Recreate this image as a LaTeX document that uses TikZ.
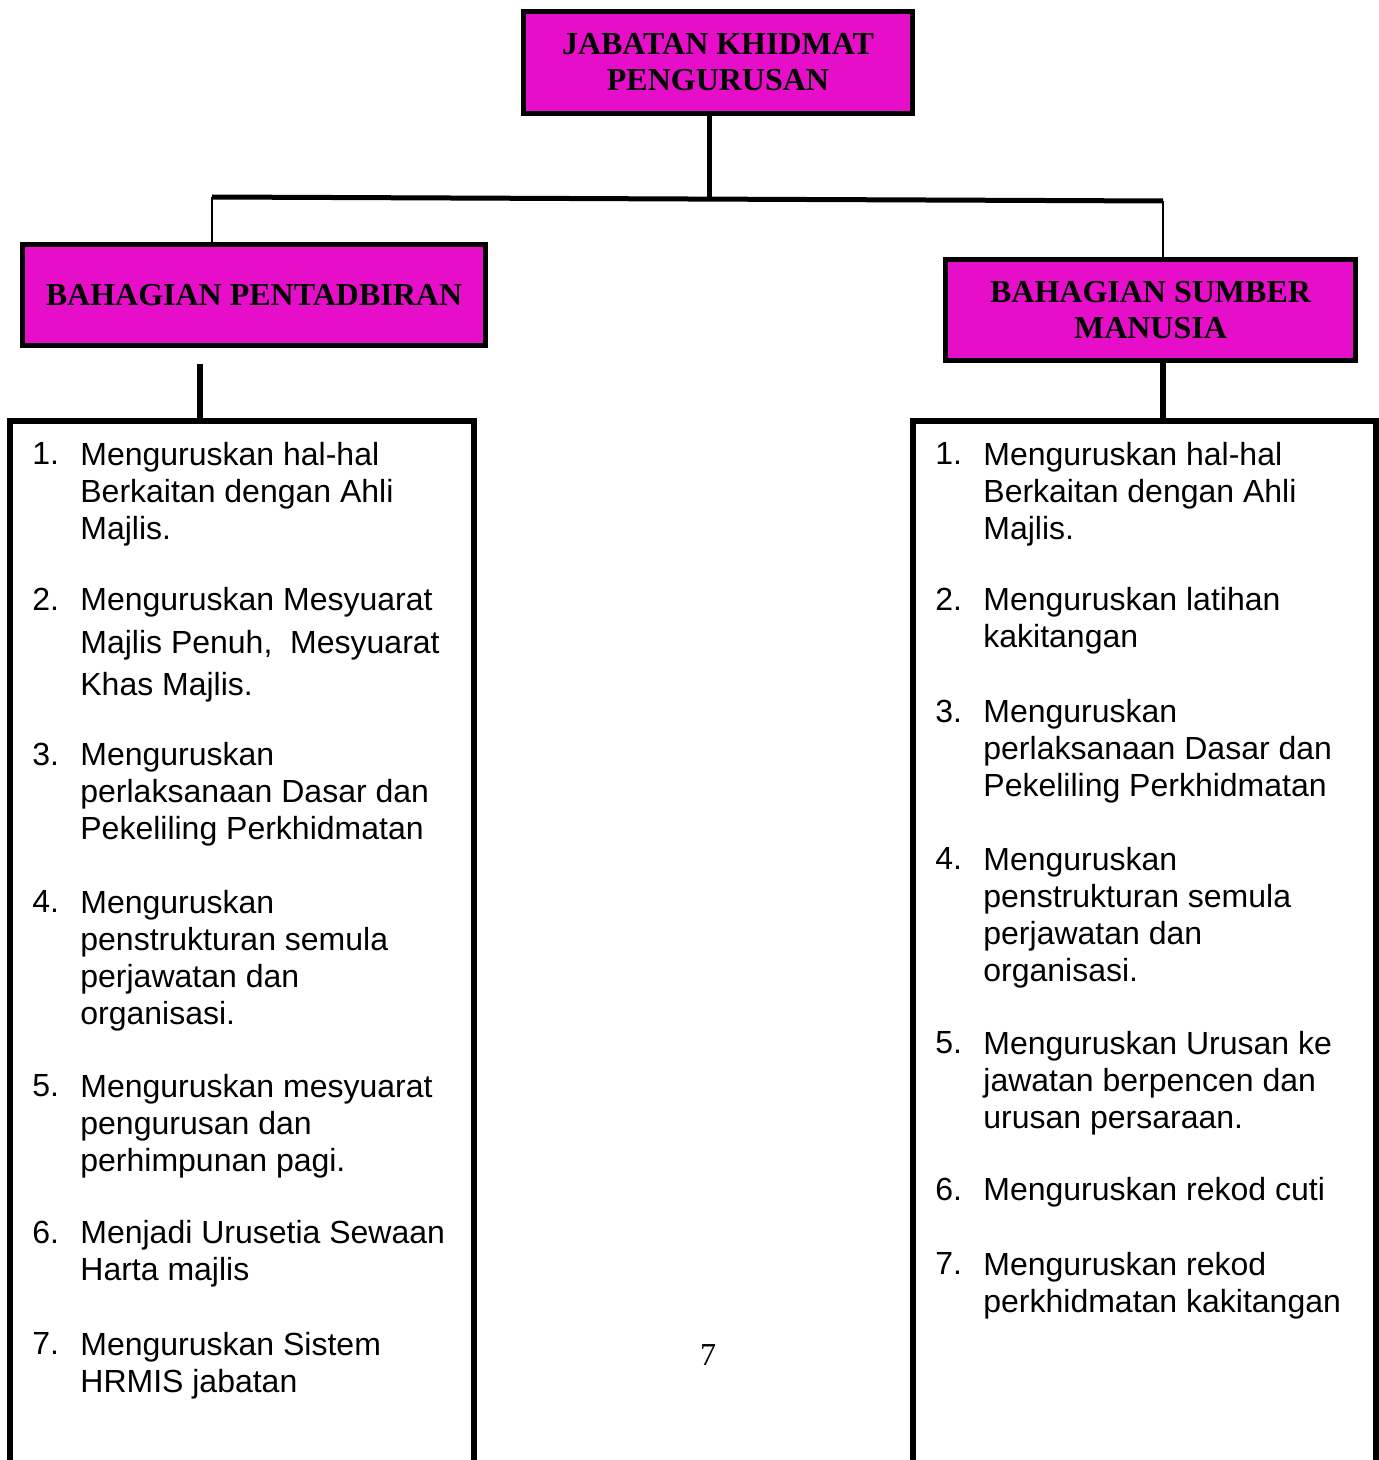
\documentclass[tikz,border=0pt]{standalone}
\usepackage{fontspec}
\setmainfont{Liberation Serif}
\newfontfamily\arialfont{Liberation Sans}
\usepackage{tikz}
\usetikzlibrary{calc}
\definecolor{orgmagenta}{RGB}{230,14,200}

\begin{document}
\begin{tikzpicture}[x=0.5pt, y=-0.5pt,
    headbox/.style={draw=black, line width=2.5pt, fill=orgmagenta, align=center, inner sep=0pt,
      font=\fontsize{16}{18}\selectfont\bfseries},
    listbox/.style={draw=black, line width=3pt, inner sep=0pt},
    num/.style={anchor=base west, inner sep=0pt, font=\arialfont\fontsize{16}{18.5}\selectfont},
    itemtext/.style={inner sep=0pt, anchor=north west, align=left, font=\arialfont\fontsize{16}{18.5}\selectfont},
    trunk/.style={draw=black, line width=2.5pt},
    twig/.style={draw=black, line width=1pt},
    stem/.style={draw=black, line width=3pt}]
    \useasboundingbox (0,0) rectangle (1379,1460);

    % boxes
    \node[headbox, minimum width=194.5pt, minimum height=51pt] (jkp) at (718,62.5) {JABATAN KHIDMAT\\PENGURUSAN};
    \node[headbox, minimum width=231.5pt, minimum height=50.5pt] (bp) at (254,295) {BAHAGIAN PENTADBIRAN};
    \node[headbox, minimum width=205pt, minimum height=50.5pt] (bsm) at (1150.5,310) {BAHAGIAN SUMBER\\MANUSIA};
    \node[listbox, minimum width=232pt, minimum height=539.5pt] (lbp) at (242,960.5) {};
    \node[listbox, minimum width=231.5pt, minimum height=539.5pt] (lbsm) at (1144.5,960.5) {};

    % connectors
    \coordinate (jl) at (212,197);
    \coordinate (jr) at (1163,201);
    \coordinate (hub) at (709,199);
    \draw[trunk] (jkp.south -| hub) -- (hub);
    \draw[trunk] (jl) -- (jr);
    \draw[twig] (jl) -- (bp.north -| jl);
    \draw[twig] (jr) -- (bsm.north -| jr);
    \draw[stem, shorten <=8pt] ([xshift=-27pt]bp.south) -- ([xshift=-27pt]bp.south |- lbp.north);
    \draw[stem] ([xshift=6.25pt]bsm.south) -- ([xshift=6.25pt]bsm.south |- lbsm.north);

    % Bahagian Pentadbiran
    \node[num] (l1n) at (32,464) {1.};
    \node[itemtext] (l1) at ($(l1n.north west)+(48,0)$) {Menguruskan hal-hal\\Berkaitan dengan Ahli\\Majlis.};
    \node[num] (l2n) at (32,610) {2.};
    \node[itemtext] (l2) at ($(l2n.north west)+(48,0)$) {Menguruskan Mesyuarat\\[2.75pt]Majlis Penuh,\ \ Mesyuarat\\[2.75pt]Khas Majlis.};
    \node[num] (l3n) at (32,765) {3.};
    \node[itemtext] (l3) at ($(l3n.north west)+(48,0)$) {Menguruskan\\perlaksanaan Dasar dan\\Pekeliling Perkhidmatan};
    \node[num] (l4n) at (32,912) {4.};
    \node[itemtext] (l4) at ($(l4n.north west)+(48,0)$) {Menguruskan\\penstrukturan semula\\perjawatan dan\\organisasi.};
    \node[num] (l5n) at (32,1096) {5.};
    \node[itemtext] (l5) at ($(l5n.north west)+(48,0)$) {Menguruskan mesyuarat\\pengurusan dan\\perhimpunan pagi.};
    \node[num] (l6n) at (32,1243) {6.};
    \node[itemtext] (l6) at ($(l6n.north west)+(48,0)$) {Menjadi Urusetia Sewaan\\Harta majlis};
    \node[num] (l7n) at (32,1354) {7.};
    \node[itemtext] (l7) at ($(l7n.north west)+(48,0)$) {Menguruskan Sistem\\HRMIS jabatan};

    % Bahagian Sumber Manusia
    \node[num] (r1n) at (935,464) {1.};
    \node[itemtext] (r1) at ($(r1n.north west)+(48,0)$) {Menguruskan hal-hal\\Berkaitan dengan Ahli\\Majlis.};
    \node[num] (r2n) at (935,610) {2.};
    \node[itemtext] (r2) at ($(r2n.north west)+(48,0)$) {Menguruskan latihan\\kakitangan};
    \node[num] (r3n) at (935,722) {3.};
    \node[itemtext] (r3) at ($(r3n.north west)+(48,0)$) {Menguruskan\\perlaksanaan Dasar dan\\Pekeliling Perkhidmatan};
    \node[num] (r4n) at (935,869) {4.};
    \node[itemtext] (r4) at ($(r4n.north west)+(48,0)$) {Menguruskan\\penstrukturan semula\\perjawatan dan\\organisasi.};
    \node[num] (r5n) at (935,1053) {5.};
    \node[itemtext] (r5) at ($(r5n.north west)+(48,0)$) {Menguruskan Urusan ke\\jawatan berpencen dan\\urusan persaraan.};
    \node[num] (r6n) at (935,1200) {6.};
    \node[itemtext] (r6) at ($(r6n.north west)+(48,0)$) {Menguruskan rekod cuti};
    \node[num] (r7n) at (935,1274) {7.};
    \node[itemtext] (r7) at ($(r7n.north west)+(48,0)$) {Menguruskan rekod\\perkhidmatan kakitangan};

    \node[font=\fontsize{16}{18}\selectfont, inner sep=0pt] (pg) at (708,1355) {7};
\end{tikzpicture}
\end{document}
